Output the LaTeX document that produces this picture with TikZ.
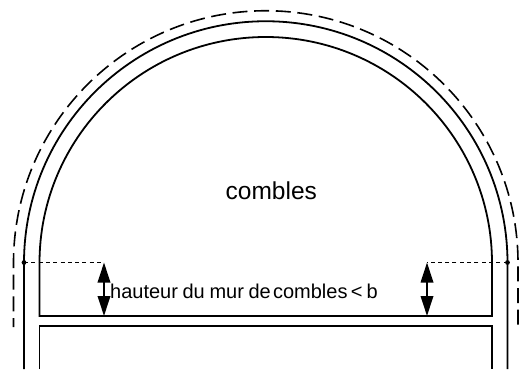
\documentclass[tikz,border=0pt]{standalone}
\usepackage{fontspec}
\setmainfont{Liberation Sans}
\usetikzlibrary{arrows.meta}
\tikzset{
  wall/.style={line width=1.8pt,black},
  dashline/.style={line width=1.6pt,dash pattern=on 15pt off 6.65pt,dash phase=6pt},
  dotline/.style={line width=1.4pt,dash pattern=on 4pt off 3.3pt},
  dimarrow/.style={line width=1.8pt,{Triangle[length=20pt,width=12.5pt]}-{Triangle[length=20pt,width=12.5pt]}},
  lbl/.style={inner sep=0pt,font=\fontsize{24.5}{26}\selectfont}
}
\begin{document}
\begin{tikzpicture}[x=1pt,y=-1pt]
\useasboundingbox (0,0) rectangle (529,369);
\draw[wall] (39.5,369) -- (39.5,326) -- (492,326) -- (492,369);
\draw[wall] (39.5,316) -- (39.5,263) arc[start angle=180,end angle=0,x radius=226.25pt,y radius=226pt] -- (492,316) -- cycle;
\draw[wall] (24,369) -- (24,263) arc[start angle=180,end angle=0,x radius=241.75pt,y radius=241.75pt] -- (507.5,369);
\draw[dashline] (13.5,327) -- (13.5,263) arc[start angle=180,end angle=0,x radius=252.25pt,y radius=252.25pt] -- (518,327);
\coordinate (la) at (24,262.5); \coordinate (lb) at (104,262.5); \coordinate (lc) at (104,316);
\coordinate (ra) at (507.5,262.5); \coordinate (rb) at (427,262.5); \coordinate (rc) at (427,316);
\draw[dotline] (la) -- (lb);
\draw[dotline] (ra) -- (rb);
\fill (la) circle (2.4pt);
\fill (ra) circle (2.4pt);
\draw[dimarrow] (lb) -- (lc);
\draw[dimarrow] (rb) -- (rc);
\node[lbl,anchor=base] (c) at (271.3,199.5) {combles};
\node[lbl,anchor=base west,font=\fontsize{20}{22}\selectfont] (h) at (110,298) {hauteur\hspace{-1pt} du\hspace{-0.8pt} mur\hspace{-1pt} de\hspace{-3.3pt} combles\hspace{-2.3pt} <\hspace{-1.5pt} b};
\end{tikzpicture}
\end{document}
